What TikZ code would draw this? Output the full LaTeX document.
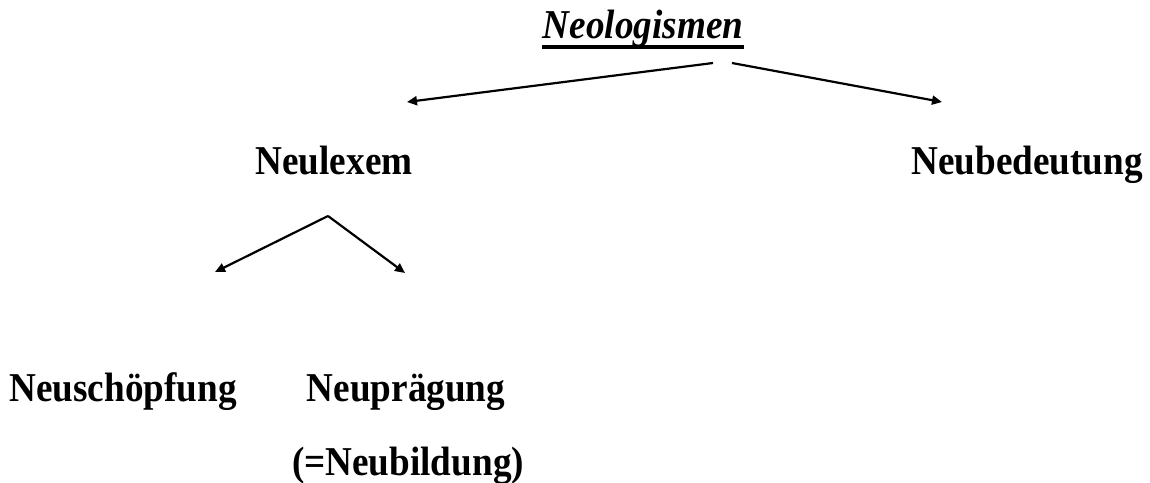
\documentclass[tikz,border=0pt]{standalone}
\usepackage{fontspec}
\setmainfont[FakeStretch=0.907]{Liberation Serif}
\usepackage{tikz}
\usetikzlibrary{positioning,arrows.meta}

\begin{document}
\begin{tikzpicture}[
    x=0.5pt, y=-0.5pt,
    word/.style={%
      font=\fontsize{20.5}{24}\selectfont\bfseries,
      inner sep=0pt,
      anchor=base,
    },
    arr/.style={%
      line width=1.1pt,
      -{Triangle[length=5pt,width=4.5pt]},
    },
  ]
    \useasboundingbox (0,0) rectangle (1150,482);

    \node [word,font=\fontsize{20.5}{24}\selectfont\bfseries\itshape] (title) at (643,38) {Neologismen};
    \draw [line width=1.7pt] ([yshift=-4.5pt]title.base west) -- ([yshift=-4.5pt]title.base east);

    \node [word] (lexem) at (334,174) {Neulexem};
    \node [word] (bedeutung) at (1027,174) {Neubedeutung};
    \node [word] (schoepfung) at (123,401) {Neuschöpfung};
    \node [word] (praegung) at (406,401) {Neuprägung};
    \node [word] (bildung) at (408,475) {(=Neubildung)};

    \coordinate (tl) at (713,63);
    \coordinate (tr) at (732,63);
    \coordinate (lx) at (328,216);

    \draw [arr] (tl) -- (407,102) coordinate (lexemTip);
    \draw [arr] (tr) -- (942,102) coordinate (bedeutungTip);
    \draw [arr] (lx) -- (215,272) coordinate (schoepfungTip);
    \draw [arr] (lx) -- (405,273) coordinate (praegungTip);
\end{tikzpicture}
\end{document}
